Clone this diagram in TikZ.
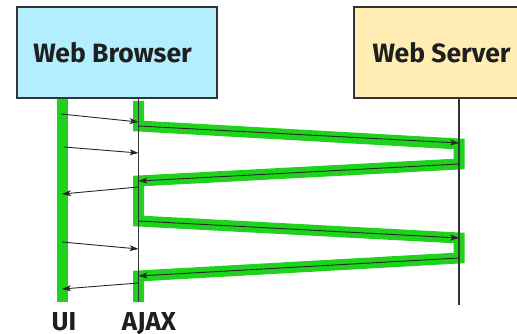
\documentclass[tikz,border=0pt]{standalone}
\usepackage{fontspec}
\setmainfont{Fira Sans}
\usetikzlibrary{arrows.meta}
\definecolor{boxline}{HTML}{333333}
\definecolor{browserfill}{HTML}{B3EEFF}
\definecolor{serverfill}{HTML}{FFEDB3}
\definecolor{hl}{RGB}{30,210,30}
\begin{document}
\begin{tikzpicture}[x=1pt,y=-1pt,
  actor/.style={draw=boxline,line width=1.6pt,minimum height=91pt,inner sep=0pt},
  title/.style={font=\fontsize{26.5}{30}\selectfont\bfseries,text=black!88,inner sep=0pt},
  lifeline/.style={draw=boxline,line width=1.6pt},
  msg/.style={draw=black!85,line width=0.9pt,-{Stealth[length=9pt,width=6pt,inset=2.5pt]}},
  greenpath/.style={draw=hl,line width=11pt,line join=miter},
  lbl/.style={font=\fontsize{26}{30}\selectfont\bfseries,text=black!88,inner sep=0pt,anchor=base}]
\useasboundingbox (0,0) rectangle (517,334);
\clip (0,0) rectangle (517,334);
% actors
\node[actor,fill=browserfill,minimum width=200pt] (browser) at (117,52.5) {};
\node[actor,fill=serverfill,minimum width=175pt] (server) at (441.5,52.5) {};
\node[title] (browsertxt) at (112.5,52.5) {Web Browser};
\node[title] (servertxt) at (441.5,52.5) {Web Server};
% lifeline ends
\coordinate (uiTop) at (62.5,99);
\coordinate (uiBot) at (62.5,302);
\coordinate (ajTop) at (138.5,99);
\coordinate (ajBot) at (138.5,302);
\coordinate (svTop) at (459,99);
\coordinate (svBot) at (459,305);
% green highlights
\draw[greenpath] (uiTop) -- (uiBot);
\draw[greenpath] (138.5,101) -- (138.5,126) -- (459,144) -- (459,164) -- (138.5,181)
  -- (138.5,221) -- (459,238) -- (459,258) -- (138.5,276) -- (138.5,302);
% lifelines
\draw[lifeline] (browser.south -| ajTop) -- (ajBot);
\draw[lifeline] (server.south -| svTop) -- (svBot);
% message points
\coordinate (u1) at (61,114);   \coordinate (a1) at (138.5,122);
\coordinate (u2) at (64,147);   \coordinate (a2) at (138.5,153);
\coordinate (a3) at (138.5,126); \coordinate (s3) at (459,143);
\coordinate (s4) at (459,164);  \coordinate (a4) at (138.5,181);
\coordinate (a5) at (138.5,187); \coordinate (u5) at (62,194);
\coordinate (a6) at (138.5,221); \coordinate (s6) at (459,238);
\coordinate (u7) at (62,242);   \coordinate (a7) at (138.5,249);
\coordinate (s8) at (459,258);  \coordinate (a8) at (138.5,276);
\coordinate (a9) at (138.5,283); \coordinate (u9) at (62,289);
\draw[msg] (u1) -- (a1);
\draw[msg] (u2) -- (a2);
\draw[msg] (a3) -- (s3);
\draw[msg] (s4) -- (a4);
\draw[msg] (a5) -- (u5);
\draw[msg] (a6) -- (s6);
\draw[msg] (u7) -- (a7);
\draw[msg] (s8) -- (a8);
\draw[msg] (a9) -- (u9);
% labels
\node[lbl] (ui) at (64,330) {UI};
\node[lbl] (ajax) at (149,330) {AJAX};
\end{tikzpicture}
\end{document}
